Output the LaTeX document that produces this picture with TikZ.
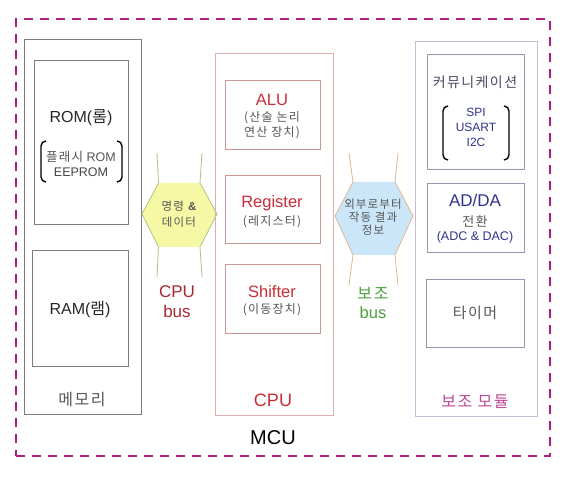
\documentclass[tikz,border=0pt]{standalone}
\usepackage{fontspec}
\setmainfont{Liberation Sans}
\newfontfamily\kr[LetterSpace=10]{Noto Sans CJK KR}
\newcommand{\myfs}[1]{\fontsize{#1}{#1}\selectfont}
\definecolor{dashc}{RGB}{172,32,132}
\definecolor{memb}{RGB}{125,125,125}
\definecolor{cpuout}{RGB}{222,175,175}
\definecolor{cpuin}{RGB}{205,150,150}
\definecolor{modout}{RGB}{200,188,215}
\definecolor{modin}{RGB}{150,150,172}
\definecolor{redtxt}{RGB}{200,45,55}
\definecolor{busred}{RGB}{170,40,50}
\definecolor{greentxt}{RGB}{75,160,60}
\definecolor{graytxt}{RGB}{85,85,85}
\definecolor{bluetxt}{RGB}{50,50,140}
\definecolor{pinktxt}{RGB}{190,70,150}
\definecolor{yfill}{RGB}{246,248,165}
\definecolor{yline}{RGB}{175,195,130}
\definecolor{bfill}{RGB}{202,230,248}
\definecolor{bline}{RGB}{222,185,145}
\tikzset{
  box/.style={draw, line width=0.8pt, inner sep=0pt, anchor=center},
  txt/.style={inner sep=0pt, anchor=center},
  brk/.style={draw=black, line width=1.4pt, rounded corners=5pt},
}
\begin{document}
\begin{tikzpicture}[x=1pt,y=-1pt]
\useasboundingbox (0,0) rectangle (566,478);
\fill[white] (0,0) rectangle (566,478);

% outer MCU dashed frame
\node[box, draw=dashc, line width=2.6pt, dash pattern=on 9pt off 7pt,
  minimum width=534pt, minimum height=437pt] (mcu) at (283,237.5) {};

% memory
\node[box, draw=memb, minimum width=117pt, minimum height=375pt] (mem) at (82.5,226.5) {};
\node[box, draw=memb, minimum width=94pt, minimum height=164pt] (rom) at (81,142) {};
\node[box, draw=memb, minimum width=96pt, minimum height=116pt] (ram) at (80,308) {};
\node[txt, text=black!85, font=\myfs{16}] (romt) at (81,118) {ROM({\kr 롬})};
\node[txt, text=graytxt, font=\myfs{12.5}] (romf) at (81,157) {{\kr 플래시} ROM};
\node[txt, text=graytxt!80!black, font=\myfs{12.5}] (rome) at (81,172) {EEPROM};
\draw[brk] (46,141) -- (41,141) -- (41,182) -- (46,182);
\draw[brk] (117,141) -- (122,141) -- (122,182) -- (117,182);
\node[txt, text=black!85, font=\myfs{16}] (ramt) at (80,310) {RAM({\kr 램})};
\node[txt, text=graytxt, font=\kr\myfs{16}] (memt) at (82,400) {메모리};

% CPU bus (yellow)
\fill[yfill] (158.5,183) -- (200,183) -- (217,214) -- (200,247) -- (158.5,247) -- (142,214) -- cycle;
\draw[yline, line width=0.8pt] (157,153) -- (158.5,183) -- (142,214) -- (158.5,247) -- (157,277);
\draw[yline, line width=0.8pt] (202,153) -- (200,183) -- (217,214) -- (200,247) -- (202,277);
\node[txt, text=graytxt, font=\myfs{11.5}] (ybus1) at (179,206) {{\kr 명령} \textbf{\&}};
\node[txt, text=graytxt, font=\kr\myfs{11.5}] (ybus2) at (179,222) {데이터};
\node[txt, text=busred, font=\myfs{17}] (cpub1) at (177,292) {CPU};
\node[txt, text=busred, font=\myfs{17}] (cpub2) at (177,311) {bus};

% CPU
\node[box, draw=cpuout, minimum width=118pt, minimum height=362pt] (cpu) at (274,234) {};
\node[box, draw=cpuin, minimum width=95pt, minimum height=69pt] (alu) at (272.5,114.5) {};
\node[box, draw=cpuin, minimum width=95pt, minimum height=68pt] (reg) at (272.5,209) {};
\node[box, draw=cpuin, minimum width=95pt, minimum height=69pt] (shf) at (272.5,298.5) {};
\node[txt, text=redtxt, font=\myfs{16.5}] (alut) at (272,100) {ALU};
\node[txt, text=graytxt, font=\kr\myfs{12}] (alus1) at (272,118) {(산술 논리};
\node[txt, text=graytxt, font=\kr\myfs{12}] (alus2) at (272,133) {연산 장치)};
\node[txt, text=redtxt, font=\myfs{16.5}] (regt) at (272,203) {Register};
\node[txt, text=graytxt, font=\kr\myfs{12}] (regs) at (272,222) {(레지스터)};
\node[txt, text=redtxt, font=\myfs{16.5}] (shft) at (272,292) {Shifter};
\node[txt, text=graytxt, font=\kr\myfs{12}] (shfs) at (272,310) {(이동장치)};
\node[txt, text=redtxt, font=\myfs{18}] (cput) at (273,400) {CPU};
\node[txt, text=black, font=\myfs{20}] (mcut) at (273,438) {MCU};

% auxiliary bus (blue)
\fill[bfill] (353,182) -- (395,182) -- (413,216) -- (395,255) -- (353,255) -- (335,216) -- cycle;
\draw[bline, line width=0.8pt] (349,153) -- (353,182) -- (335,216) -- (353,255) -- (349,285);
\draw[bline, line width=0.8pt] (398,153) -- (395,182) -- (413,216) -- (395,255) -- (398,285);
\node[txt, text=graytxt, font=\kr\myfs{11.5}] (bbus1) at (373,204) {외부로부터};
\node[txt, text=graytxt, font=\kr\myfs{11.5}] (bbus2) at (373,217) {작동 결과};
\node[txt, text=graytxt, font=\kr\myfs{11.5}] (bbus3) at (373,230) {정보};
\node[txt, text=greentxt, font=\kr\myfs{16}] (aux1) at (373,293) {보조};
\node[txt, text=greentxt, font=\myfs{16.5}] (aux2) at (373,313) {bus};

% auxiliary modules
\node[box, draw=modout, minimum width=122pt, minimum height=375pt] (mod) at (476,228.5) {};
\node[box, draw=modin, minimum width=97pt, minimum height=115pt] (comm) at (475.5,111.5) {};
\node[box, draw=modin, minimum width=97pt, minimum height=69pt] (adda) at (475.5,217.5) {};
\node[box, draw=modin, minimum width=98pt, minimum height=68pt] (tim) at (475,313) {};
\node[txt, text=graytxt!70!bluetxt, font=\kr\myfs{14}] (commt) at (475,82) {커뮤니케이션};
\node[txt, text=bluetxt, font=\myfs{12}] (spi) at (476,112) {SPI};
\node[txt, text=bluetxt, font=\myfs{12}] (usart) at (476,127) {USART};
\node[txt, text=bluetxt, font=\myfs{12}] (i2c) at (476,142) {I2C};
\draw[brk] (448,106) -- (443,106) -- (443,160) -- (448,160);
\draw[brk] (504,106) -- (509,106) -- (509,160) -- (504,160);
\node[txt, text=bluetxt, font=\myfs{17}] (addat) at (475,200) {AD/DA};
\node[txt, text=graytxt, font=\kr\myfs{13}] (addas) at (475,221) {전환};
\node[txt, text=bluetxt, font=\myfs{12.5}] (addac) at (475,237) {(ADC \& DAC)};
\node[txt, text=graytxt, font=\kr\myfs{15}] (timt) at (475,313) {타이머};
\node[txt, text=pinktxt, font=\kr\myfs{16}] (modt) at (475,402) {보조 모듈};
\end{tikzpicture}
\end{document}
